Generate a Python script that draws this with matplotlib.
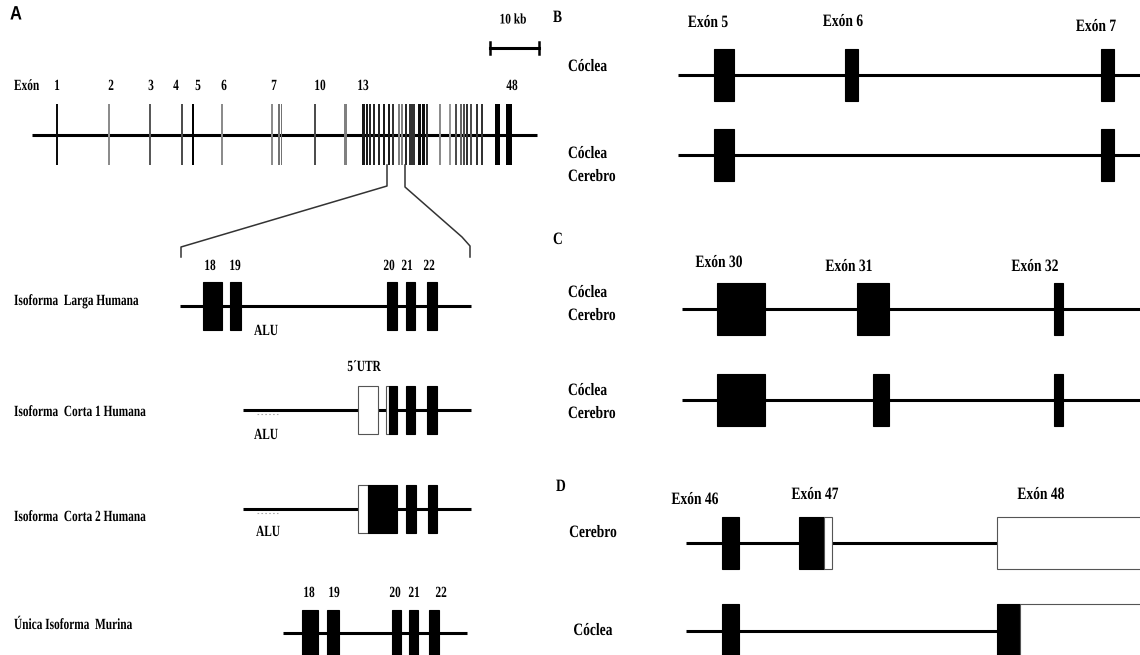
import matplotlib
matplotlib.use("Agg")
import matplotlib.pyplot as plt
from matplotlib.patches import Rectangle
from matplotlib.patheffects import AbstractPathEffect
from matplotlib.transforms import Affine2D
from matplotlib import font_manager

# ---------------- DATA ----------------
# Panel A: whole gene (pixel-like genomic coordinate axis)
gene_start, gene_end = 32, 537
gene_exon_x = [57, 109, 150, 182, 193, 222, 272, 279, 281.5, 315, 345,
               363.5, 366.5, 369.5, 374, 379, 384, 389, 393, 399, 402, 406,
               410.5, 413.5, 419.5, 423, 427, 440, 450, 456, 461, 464, 467,
               471, 477, 482, 497, 509]
gene_exon_w = [2.5, 1.5, 1.5, 1.5, 2.5, 1.5, 1.5, 1.5, 1.5, 1.5, 3,
               2.5, 2, 2, 2, 2, 2, 2, 2, 2.5, 2.5, 2,
               2.5, 2.5, 3, 3, 2, 2, 2, 2, 2.5, 2.5, 2.5,
               2, 2, 2, 5, 6]
gene_exon_shade = [0.05, 0.55, 0.35, 0.3, 0.0, 0.55, 0.55, 0.45, 0.45, 0.3, 0.5,
                   0.1, 0.1, 0.15, 0.15, 0.15, 0.1, 0.1, 0.2, 0.5, 0.5, 0.15,
                   0.2, 0.2, 0.05, 0.05, 0.2, 0.55, 0.6, 0.3, 0.4, 0.3, 0.2,
                   0.3, 0.2, 0.2, 0.0, 0.0]
gene_label_text = ["1", "2", "3", "4", "5", "6", "7", "10", "13", "48"]
gene_label_x = [57, 111, 151, 176, 198, 224, 274, 320, 363, 512]

# Panel A: isoforms (exon start, end)
iso_names = ["Isoforma  Larga Humana", "Isoforma  Corta 1 Humana",
             "Isoforma  Corta 2 Humana", "Única Isoforma  Murina"]
iso_label_y = [301, 412, 517, 625]
iso_line_y = [306, 410, 509, 633]
iso_line_span = [(180, 471), (243, 471), (243, 471), (283, 467)]
iso_box_half = [24, 24, 24, 23]
larga_black = [(203, 222), (230, 241), (387, 397), (406, 415), (427, 437)]
corta1_white = [(358, 378), (386, 389)]
corta1_black = [(389, 397), (406, 415), (427, 437)]
corta2_white = [(358, 368)]
corta2_black = [(368, 397), (406, 416), (428, 437)]
murina_black = [(302, 318), (327, 339), (392, 401), (409, 418), (429, 439)]
larga_nums = ["18", "19", "20", "21", "22"]
larga_num_x = [210, 235, 389, 407, 429]
murina_nums = ["18", "19", "20", "21", "22"]
murina_num_x = [309, 334, 395, 414, 441]
alu_x = [266, 266, 268]
alu_y = [331, 435, 532]

# Panel B
b_exon_names = ["Exón 5", "Exón 6", "Exón 7"]
b_exon_label_x = [708, 843, 1096]
b_exon_label_y = [23, 22, 27]
b_row_labels = [["Cóclea"], ["Cóclea", "Cerebro"]]
b_row_label_y = [[67], [154, 177]]
b_line_y = [75, 155]
b_row1_black = [(714, 734), (845, 858), (1101, 1114)]
b_row2_black = [(714, 734), (1101, 1114)]

# Panel C
c_exon_names = ["Exón 30", "Exón 31", "Exón 32"]
c_exon_label_x = [719, 849, 1035]
c_exon_label_y = [263, 267, 267]
c_row_labels = [["Cóclea", "Cerebro"], ["Cóclea", "Cerebro"]]
c_row_label_y = [[293, 316], [391, 414]]
c_line_y = [309, 400]
c_row1_black = [(717, 765), (857, 889), (1054, 1063)]
c_row2_black = [(717, 765), (873, 889), (1054, 1063)]

# Panel D
d_exon_names = ["Exón 46", "Exón 47", "Exón 48"]
d_exon_label_x = [695, 815, 1041]
d_exon_label_y = [500, 495, 495]
d_row_labels = ["Cerebro", "Cóclea"]
d_row_label_y = [533, 631]
d_line_y = [543, 631]
d_row1_black = [(722, 739), (799, 824)]
d_row1_white = [(824, 832), (997, 1160)]
d_row2_black = [(722, 739), (997, 1020)]
d_row2_white = [(1020, 1160)]

# ---------------- STYLE ----------------
avail = {f.name for f in font_manager.fontManager.ttflist}
SERIF = "Liberation Serif" if "Liberation Serif" in avail else "DejaVu Serif"
SANSN = "Liberation Sans Narrow" if "Liberation Sans Narrow" in avail else "Liberation Sans"
LW = 2.2  # intron line width (pt)

fig = plt.figure(figsize=(11.4, 6.55), dpi=100)
ax = fig.add_axes([0, 0, 1, 1])
ax.set_xlim(0, 1140)
ax.set_ylim(655, 0)
ax.axis("off")


class Condense(AbstractPathEffect):
    """Horizontally condense glyphs around an anchor (mimics a condensed face)."""

    def __init__(self, x0, sx):
        super().__init__()
        self.x0 = x0
        self.sx = sx

    def draw_path(self, renderer, gc, tpath, affine, rgbFace=None):
        a = affine + Affine2D().translate(-self.x0, 0).scale(self.sx, 1).translate(self.x0, 0)
        renderer.draw_path(gc, tpath, a, rgbFace)


def txt(x, y, s, size=11.2, ha="center", family=SERIF, sx=0.73):
    x0 = ax.transData.transform((x, y))[0]
    ax.text(x, y, s, fontsize=size, fontweight="bold", family=family,
            ha=ha, va="center", color="black",
            path_effects=[Condense(x0, sx)])


def rtxt(x, y, s, ha="center"):
    txt(x, y, s, size=12.5, ha=ha, sx=0.78)


def line(x0, x1, y, lw=LW, color="black"):
    ax.plot([x0, x1], [y, y], color=color, lw=lw, solid_capstyle="butt", zorder=1)


def boxes(spans, yc, half, fill="black"):
    for a, b in spans:
        ax.add_patch(Rectangle((a, yc - half), b - a, 2 * half,
                               facecolor=fill,
                               edgecolor="black" if fill == "black" else "#555555",
                               lw=0.8, zorder=3))


# ---- Panel A ----
txt(10, 15, "A", size=14, ha="left", family=SANSN, sx=0.85)
txt(513, 20, "10 kb", size=10.5, sx=0.78)
ax.plot([490, 539], [48, 48], color="black", lw=2.2)
ax.plot([490, 490], [42, 54], color="black", lw=1.8)
ax.plot([539, 539], [42, 54], color="black", lw=1.8)

txt(14, 86, "Exón", ha="left")
for s, x in zip(gene_label_text, gene_label_x):
    txt(x, 86, s)
line(gene_start, gene_end, 135)
for x, w, g in zip(gene_exon_x, gene_exon_w, gene_exon_shade):
    ax.add_patch(Rectangle((x - w / 2, 104), w, 61, facecolor=str(g),
                           edgecolor="none", zorder=2))

# zoom connector
ax.plot([387, 387, 181, 181], [165, 186, 247, 257], color="#333333", lw=1.1)
ax.plot([405, 405, 462, 470, 470], [165, 187, 237, 246, 257], color="#333333", lw=1.1)

# isoforms
for name, y in zip(iso_names, iso_label_y):
    txt(14, y, name, ha="left")
for (x0, x1), y in zip(iso_line_span, iso_line_y):
    line(x0, x1, y)
boxes(larga_black, iso_line_y[0], iso_box_half[0])
boxes(corta1_white, iso_line_y[1], iso_box_half[1], fill="white")
boxes(corta1_black, iso_line_y[1], iso_box_half[1])
boxes(corta2_white, iso_line_y[2], iso_box_half[2], fill="white")
boxes(corta2_black, iso_line_y[2], iso_box_half[2])
boxes(murina_black, iso_line_y[3], iso_box_half[3])
for s, x in zip(larga_nums, larga_num_x):
    txt(x, 266, s)
for s, x in zip(murina_nums, murina_num_x):
    txt(x, 593, s)
for x, y in zip(alu_x, alu_y):
    txt(x, y, "ALU")
txt(364, 367, "5´UTR")
for y in (iso_line_y[1] + 4, iso_line_y[2] + 4):
    ax.plot([257, 278], [y, y], color="#aaaaaa", lw=0.8, ls=(0, (1.5, 2)))

# ---- Panel B ----
rtxt(553, 18, "B", ha="left")
for s, x, y in zip(b_exon_names, b_exon_label_x, b_exon_label_y):
    rtxt(x, y, s)
for labs, ys in zip(b_row_labels, b_row_label_y):
    for s, y in zip(labs, ys):
        rtxt(568, y, s, ha="left")
for y in b_line_y:
    line(678, 1140, y)
boxes(b_row1_black, b_line_y[0], 26)
boxes(b_row2_black, b_line_y[1], 26)

# ---- Panel C ----
rtxt(553, 240, "C", ha="left")
for s, x, y in zip(c_exon_names, c_exon_label_x, c_exon_label_y):
    rtxt(x, y, s)
for labs, ys in zip(c_row_labels, c_row_label_y):
    for s, y in zip(labs, ys):
        rtxt(568, y, s, ha="left")
for y in c_line_y:
    line(682, 1140, y)
boxes(c_row1_black, c_line_y[0], 26)
boxes(c_row2_black, c_line_y[1], 26)

# ---- Panel D ----
rtxt(556, 487, "D", ha="left")
for s, x, y in zip(d_exon_names, d_exon_label_x, d_exon_label_y):
    rtxt(x, y, s)
for s, y in zip(d_row_labels, d_row_label_y):
    rtxt(593, y, s)
for y in d_line_y:
    line(686, 997, y)
boxes(d_row1_black, d_line_y[0], 26)
boxes(d_row1_white, d_line_y[0], 26, fill="white")
boxes(d_row2_black, d_line_y[1], 27)
boxes(d_row2_white, d_line_y[1], 27, fill="white")

fig.savefig("out.png", dpi=100, facecolor="white")
